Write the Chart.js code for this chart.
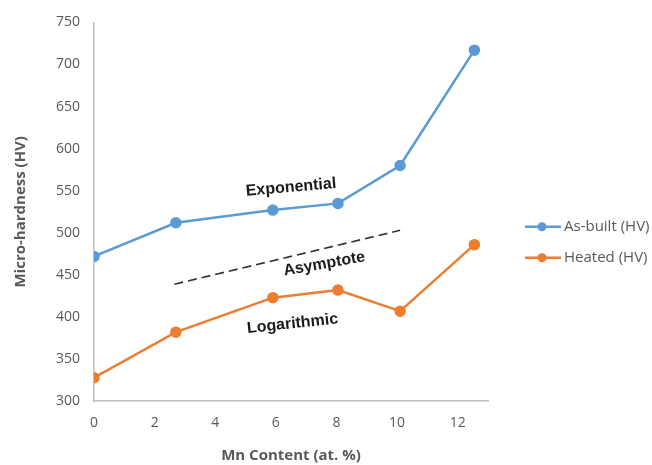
<!DOCTYPE html>
<html>
<head>
<meta charset="utf-8">
<script src="https://cdn.jsdelivr.net/npm/chart.js@4/dist/chart.umd.min.js"></script>
<style>
  html, body { margin: 0; padding: 0; background: #fff; }
  #wrap { width: 652px; height: 465px; }
</style>
</head>
<body>
<div id="wrap"><canvas id="hardness-chart"></canvas></div>
<script>
// values
let mnContent = [0, 2.7, 5.9, 8.05, 10.1, 12.55];
let asBuilt = [472, 512, 527, 535, 580, 717];
let heated = [328, 382, 423, 432, 407, 486];
let asymptoteX = [2.65, 10.1];
let asymptoteY = [439, 503];
let xTicks = [0, 2, 4, 6, 8, 10, 12];
let yTicks = [300, 350, 400, 450, 500, 550, 600, 650, 700, 750];

// text notes on the plot: [label, x, y, angle in degrees]
let notes = [
  ["Exponential", 6.5, 554, -5],
  ["Asymptote", 7.6, 463, -10],
  ["Logarithmic", 6.55, 392, -6]
];

const grey = '#595959';
const font = "'Open Sans', 'DejaVu Sans', sans-serif";

function toPoints(xs, ys) {
  return xs.map((x, i) => ({ x: x, y: ys[i] }));
}

const notesPlugin = {
  id: 'notes',
  afterDatasetsDraw(chart) {
    let ctx = chart.ctx;
    let xs = chart.scales.x, ys = chart.scales.y;
    ctx.save();
    ctx.fillStyle = '#1a1a1a';
    ctx.font = "bold 16px 'Liberation Sans', Arial, sans-serif";
    ctx.textAlign = 'center';
    ctx.textBaseline = 'middle';
    for (let [txt, x, y, ang] of notes) {
      ctx.save();
      ctx.translate(xs.getPixelForValue(x), ys.getPixelForValue(y));
      ctx.rotate(ang * Math.PI / 180);
      ctx.fillText(txt, 0, 0);
      ctx.restore();
    }
    ctx.restore();
  }
};

// legend on the right: line with a dot, then the series name
const sideLegend = {
  id: 'sideLegend',
  afterDraw(chart) {
    let ctx = chart.ctx;
    let area = chart.chartArea;
    let x0 = area.right + 37;
    let y0 = (area.top + area.bottom) / 2 + 15;
    ctx.save();
    ctx.font = '15px ' + font;
    ctx.textBaseline = 'middle';
    chart.data.datasets.slice(0, 2).forEach((ds, i) => {
      let y = y0 + i * 31;
      ctx.strokeStyle = ds.borderColor;
      ctx.lineWidth = 2.5;
      ctx.beginPath(); ctx.moveTo(x0, y); ctx.lineTo(x0 + 36, y); ctx.stroke();
      ctx.fillStyle = ds.borderColor;
      ctx.beginPath(); ctx.arc(x0 + 17, y, 4.5, 0, Math.PI * 2); ctx.fill();
      ctx.fillStyle = grey;
      ctx.fillText(ds.label, x0 + 39, y);
    });
    ctx.restore();
  }
};

new Chart(document.getElementById('hardness-chart'), {
  type: 'line',
  data: {
    datasets: [
      {
        label: 'As-built (HV)',
        data: toPoints(mnContent, asBuilt),
        borderColor: '#5B9BD5',
        backgroundColor: '#5B9BD5',
        borderWidth: 2.5,
        pointRadius: 4.5
      },
      {
        label: 'Heated (HV)',
        data: toPoints(mnContent, heated),
        borderColor: '#ED7D31',
        backgroundColor: '#ED7D31',
        borderWidth: 2.5,
        pointRadius: 4.5
      },
      {
        label: 'Asymptote',
        data: toPoints(asymptoteX, asymptoteY),
        borderColor: '#333',
        borderWidth: 1.6,
        borderDash: [9, 5],
        pointRadius: 0
      }
    ]
  },
  options: {
    responsive: true,
    maintainAspectRatio: false,
    animation: false,
    layout: { padding: { top: 19, right: 164, left: 12, bottom: 0 } },
    plugins: {
      legend: { display: false },
      tooltip: { enabled: false }
    },
    scales: {
      x: {
        type: 'linear',
        min: 0,
        max: 13,
        afterBuildTicks: s => { s.ticks = xTicks.map(v => ({ value: v })); },
        grid: { display: false, drawTicks: false },
        border: { color: '#bfbfbf', width: 1.5 },
        ticks: { color: grey, font: { family: font, size: 14 }, padding: 13 },
        title: {
          display: true,
          text: 'Mn Content (at. %)',
          color: grey,
          font: { family: font, size: 15, weight: 'bold' },
          padding: { top: 3, bottom: 0 }
        }
      },
      y: {
        min: 300,
        max: 750,
        afterBuildTicks: s => { s.ticks = yTicks.map(v => ({ value: v })); },
        grid: { display: false, drawTicks: false },
        border: { color: '#bfbfbf', width: 1.5 },
        ticks: { color: grey, font: { family: font, size: 14 }, padding: 14 },
        title: {
          display: true,
          text: 'Micro-hardness (HV)',
          color: grey,
          font: { family: font, size: 15, weight: 'bold' },
          padding: { top: 0, bottom: 12 }
        }
      }
    }
  },
  plugins: [notesPlugin, sideLegend]
});
</script>
</body>
</html>
